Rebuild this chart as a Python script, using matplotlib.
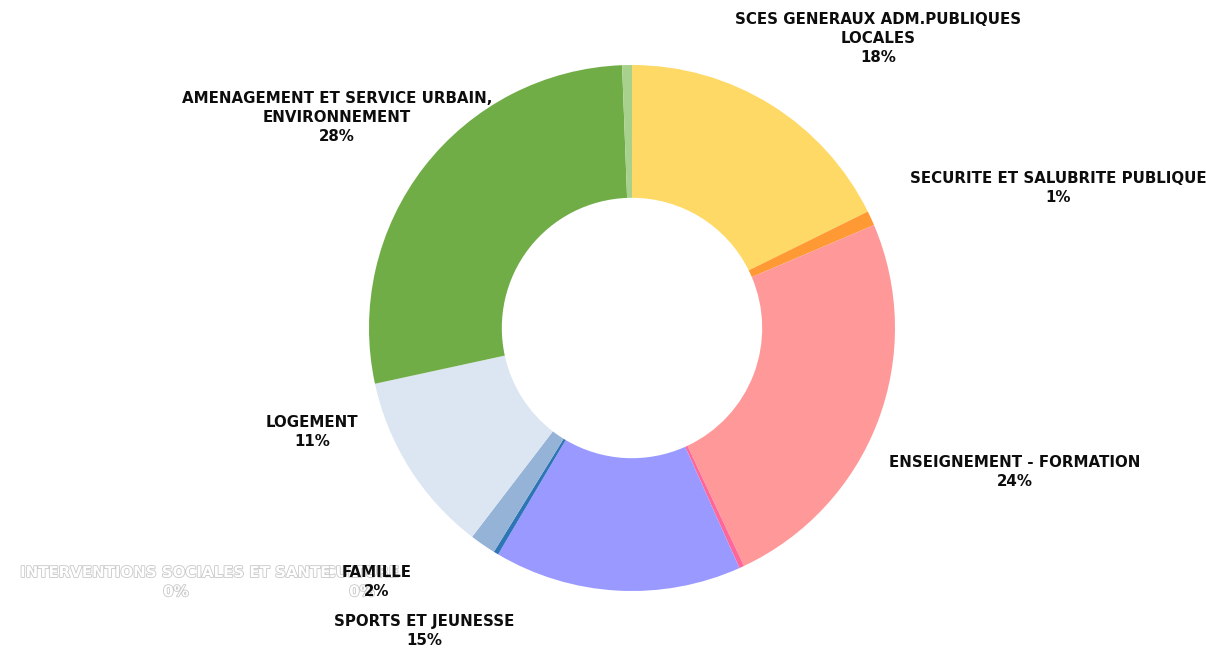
import matplotlib
matplotlib.use("Agg")
import matplotlib.pyplot as plt
import matplotlib.patheffects as pe

# budget by function (share of total, %), clockwise from 12 o'clock
FUNCTIONS = [
    "SCES GENERAUX ADM.PUBLIQUES\nLOCALES",
    "SECURITE ET SALUBRITE PUBLIQUE",
    "ENSEIGNEMENT - FORMATION",
    "CULTURE",
    "SPORTS ET JEUNESSE",
    "INTERVENTIONS SOCIALES ET SANTE",
    "FAMILLE",
    "LOGEMENT",
    "AMENAGEMENT ET SERVICE URBAIN,\nENVIRONNEMENT",
    "ACTION ECONOMIQUE",
]
SHARES = [17.7, 0.9, 24.4, 0.3, 15.2, 0.3, 1.6, 11.2, 27.8, 0.6]
COLORS = ["#FFD966", "#FF9933", "#FF9999", "#FF6699", "#9999FF",
          "#2E75B6", "#95B3D7", "#DCE6F2", "#70AD47", "#A9D18E"]

W, H = 1206, 648
# label anchor (pixel centre of first line) and whether the label is white
LABEL_POS = {
    0: (878, 18, False),
    1: (1058, 177, False),
    2: (1015, 461, False),
    3: (362, 571, True),
    4: (424, 620, False),
    5: (176, 571, True),
    6: (377, 571, False),
    7: (312, 421, False),
    8: (337, 97, False),
}

plt.rcParams["font.family"] = ["DejaVu Sans"]

fig = plt.figure(figsize=(W / 100, H / 100), dpi=100)
cx, cy, r = 632, 328, 263
ax = fig.add_axes([(cx - r) / W, (H - cy - r) / H, 2 * r / W, 2 * r / H])
ax.pie(SHARES, colors=COLORS, startangle=90, counterclock=False, radius=1.0,
       wedgeprops=dict(width=0.505, linewidth=0))
ax.set_xlim(-1, 1)
ax.set_ylim(-1, 1)
ax.set_axis_off()

total = sum(SHARES)
fs = 10.8
line_h = 19.2
# white labels first so the dark ones sit on top
order = sorted(LABEL_POS, key=lambda k: not LABEL_POS[k][2])
for i in order:
    x, y, hidden = LABEL_POS[i]
    lines = FUNCTIONS[i].split("\n") + [f"{SHARES[i] / total * 100:.0f}%"]
    for j, line in enumerate(lines):
        t = fig.text(x / W, 1 - (y + j * line_h) / H, line, ha="center",
                     va="center_baseline", fontsize=fs, fontweight="bold",
                     color="white" if hidden else "#0d0d0d")
        if hidden:
            t.set_path_effects([pe.withStroke(linewidth=1.2, foreground="#c8c8c8")])

fig.savefig("out.png", dpi=100, facecolor="white")
